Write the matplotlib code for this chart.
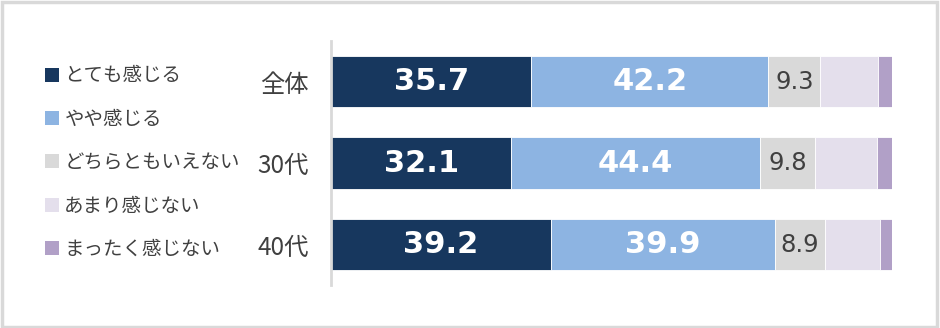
import numpy as np
import matplotlib.pyplot as plt
from matplotlib.patches import Patch, Rectangle

plt.rcParams["font.family"] = ["Noto Sans CJK JP", "DejaVu Sans"]

# data
groups = ["全体", "30代", "40代"]
labels = ["とても感じる", "やや感じる", "どちらともいえない", "あまり感じない", "まったく感じない"]
very = [35.7, 32.1, 39.2]
somewhat = [42.2, 44.4, 39.9]
neutral = [9.3, 9.8, 8.9]
not_much = [10.3, 10.9, 9.8]
not_at_all = [2.5, 2.8, 2.2]

colors = ["#17375E", "#8DB4E2", "#D9D9D9", "#E4DFEC", "#B1A0C7"]
series = [very, somewhat, neutral, not_much, not_at_all]

fig = plt.figure(figsize=(9.4, 3.28), dpi=100)
fig.patches.append(Rectangle((0.002, 0.004), 0.995, 0.99, transform=fig.transFigure,
                             fill=False, edgecolor="#D9D9D9", linewidth=2.5))

ax = fig.add_axes([331 / 940, (328 - 285.4) / 328, (892.3 - 331) / 940, 244.5 / 328])

y = np.arange(len(groups))
left = np.zeros(len(groups))
for vals, c in zip(series, colors):
    ax.barh(y, vals, left=left, height=0.63, color=c, edgecolor="white", linewidth=0.6)
    left += np.array(vals)

# value labels
for i in range(len(groups)):
    ax.text(very[i] / 2, y[i], f"{very[i]:.1f}", ha="center", va="center",
            color="white", fontsize=22, fontweight="bold", family="DejaVu Sans")
    ax.text(very[i] + somewhat[i] / 2, y[i], f"{somewhat[i]:.1f}", ha="center", va="center",
            color="white", fontsize=22, fontweight="bold", family="DejaVu Sans")
    ax.text(very[i] + somewhat[i] + neutral[i] / 2, y[i], f"{neutral[i]:.1f}", ha="center",
            va="center", color="#404040", fontsize=17.5, family="DejaVu Sans")

ax.set_xlim(0, 100)
ax.set_ylim(2.5, -0.5)
ax.set_yticks(y)
ax.set_yticklabels(groups, fontsize=17.5, color="#404040")
ax.tick_params(axis="y", length=0, pad=16)
ax.set_xticks([])
for s in ["top", "right", "bottom"]:
    ax.spines[s].set_visible(False)
ax.spines["left"].set_color("#D9D9D9")
ax.spines["left"].set_linewidth(2)

handles = [Patch(facecolor=c, edgecolor="none") for c in colors]
fig.legend(handles, labels, loc="upper left", bbox_to_anchor=(27 / 940, 1 - 48 / 328),
           frameon=False, fontsize=14, handlelength=0.72, handleheight=0.72,
           handletextpad=0.3, labelspacing=1.15, labelcolor="#404040")

fig.savefig("out.png", dpi=100)
